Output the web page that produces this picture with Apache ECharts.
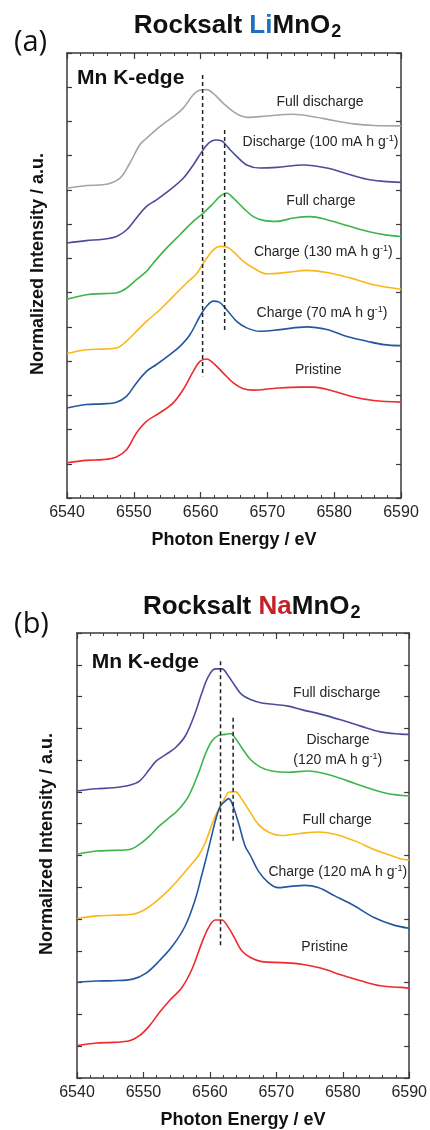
<!DOCTYPE html>
<html>
<head>
<meta charset="utf-8">
<script src="https://cdn.jsdelivr.net/npm/echarts@6/dist/echarts.min.js"></script>
<style>
  html, body { margin: 0; padding: 0; background: #fff; }
  #main { width: 430px; height: 1130px; }
</style>
</head>
<body>
<div id="main"></div>
<script>
// x tick labels (eV)
const energyMin = 6540, energyMax = 6590, energyStep = 10;

// (a) Rocksalt LiMnO2, [energy, offset intensity]
const liFullDischarge = [[6540,9.05],[6543,9.13],[6545.4,9.15],[6547.9,9.34],[6549.4,9.78],[6550.9,10.32],[6551.9,10.51],[6553.9,10.85],[6555.9,11.14],[6557.4,11.39],[6558.9,11.78],[6560,11.92],[6560.9,11.93],[6561.9,11.82],[6563.4,11.53],[6564.9,11.29],[6566.1,11.16],[6567.1,11.12],[6569.9,11.16],[6573.9,11.21],[6576.9,11.14],[6579.9,11.03],[6582.9,10.93],[6585.9,10.88],[6590,10.87]];
const liDischarge100 = [[6540,7.45],[6542.9,7.52],[6545.4,7.56],[6547.4,7.64],[6548.9,7.83],[6550.4,8.18],[6551.9,8.52],[6553.4,8.71],[6555.4,9.0],[6557.4,9.34],[6558.9,9.73],[6560.2,10.12],[6561.2,10.37],[6562.2,10.46],[6563.2,10.43],[6564.2,10.22],[6565.4,9.98],[6566.9,9.73],[6568.9,9.64],[6571.4,9.66],[6575.4,9.73],[6578.9,9.64],[6581.9,9.47],[6584.9,9.31],[6587.4,9.25],[6590,9.22]];
const liFullCharge = [[6540,5.81],[6542.9,5.94],[6545.4,5.97],[6547.4,5.99],[6548.9,6.13],[6550.4,6.38],[6551.9,6.62],[6552.9,6.86],[6554.9,7.30],[6556.9,7.69],[6558.9,8.08],[6560.4,8.32],[6561.9,8.61],[6562.9,8.81],[6563.9,8.91],[6564.9,8.76],[6566.4,8.47],[6567.9,8.22],[6569.4,8.11],[6571.4,8.08],[6573.9,8.18],[6576.4,8.22],[6578.9,8.13],[6581.9,7.96],[6584.9,7.79],[6587.9,7.68],[6590,7.64]];
const liCharge130 = [[6540,4.22],[6542.9,4.33],[6545.4,4.35],[6547.4,4.38],[6548.9,4.58],[6550.4,4.87],[6551.9,5.16],[6553.9,5.50],[6555.9,5.89],[6557.9,6.28],[6559.4,6.55],[6560.4,6.86],[6561.9,7.25],[6562.9,7.35],[6563.9,7.33],[6564.9,7.20],[6566.4,6.91],[6567.9,6.72],[6569.9,6.55],[6572.9,6.59],[6575.9,6.65],[6578.9,6.59],[6582.4,6.43],[6585.9,6.23],[6590,6.10]];
const liCharge70 = [[6540,2.63],[6542.9,2.73],[6545.4,2.75],[6547.4,2.80],[6548.9,2.97],[6550.4,3.36],[6551.9,3.70],[6553.4,3.90],[6555.4,4.19],[6556.9,4.43],[6558.4,4.77],[6559.9,5.31],[6560.9,5.60],[6561.9,5.75],[6562.7,5.73],[6563.9,5.50],[6565.4,5.16],[6566.9,4.97],[6568.9,4.87],[6571.9,4.92],[6575.9,5.00],[6578.9,4.92],[6581.9,4.72],[6584.9,4.58],[6587.4,4.48],[6590,4.45]];
const liPristine = [[6540,1.03],[6542.9,1.10],[6545.4,1.12],[6547.4,1.20],[6548.9,1.41],[6550.4,1.90],[6551.9,2.24],[6553.9,2.49],[6555.9,2.78],[6557.4,3.17],[6558.9,3.70],[6559.9,3.99],[6560.9,4.06],[6561.9,3.94],[6563.4,3.65],[6564.9,3.36],[6566.4,3.19],[6567.9,3.15],[6570.9,3.20],[6574.9,3.24],[6576.9,3.24],[6579.9,3.12],[6582.9,2.95],[6585.9,2.85],[6590,2.80]];
const liGuideA = [[6560.3,12.36],[6560.3,3.56]];
const liGuideB = [[6563.6,10.75],[6563.6,4.90]];

// (b) Rocksalt NaMnO2
const naFullDischarge = [[6540,9.03],[6542.9,9.10],[6545.4,9.13],[6547.9,9.21],[6549.4,9.34],[6550.9,9.71],[6551.9,9.97],[6553.4,10.18],[6554.8,10.39],[6556.3,10.76],[6557.8,11.49],[6558.8,12.12],[6559.8,12.64],[6560.8,12.87],[6561.8,12.87],[6562.8,12.64],[6563.8,12.33],[6564.8,12.06],[6566.1,11.91],[6567.8,11.80],[6569.8,11.75],[6571.8,11.70],[6573.8,11.59],[6576.8,11.44],[6579.8,11.26],[6582.7,11.07],[6585.7,10.89],[6588.7,10.82],[6590,10.81]];
const naDischarge120 = [[6540,7.04],[6542.9,7.14],[6545.4,7.16],[6547.9,7.19],[6549.4,7.35],[6550.9,7.61],[6552.4,7.93],[6553.9,8.19],[6555.3,8.45],[6556.8,8.87],[6558.3,9.60],[6559.3,10.18],[6560.3,10.60],[6561.3,10.78],[6562.3,10.81],[6563.1,10.84],[6563.8,10.70],[6564.8,10.39],[6566.1,10.02],[6567.6,9.78],[6569.3,9.66],[6571.8,9.62],[6574.8,9.66],[6577.8,9.55],[6580.8,9.34],[6583.7,9.13],[6586.7,8.95],[6590,8.87]];
const naFullCharge = [[6540,5.02],[6542.9,5.10],[6545.4,5.12],[6548.4,5.15],[6549.9,5.26],[6551.4,5.47],[6553.4,5.83],[6555.3,6.25],[6556.8,6.62],[6558.3,7.00],[6559.3,7.40],[6560.8,8.24],[6562.3,8.82],[6562.8,8.99],[6563.8,9.01],[6564.8,8.77],[6566.1,8.35],[6567.3,7.98],[6568.8,7.74],[6570.8,7.63],[6573.8,7.70],[6576.3,7.74],[6578.8,7.67],[6581.8,7.46],[6584.7,7.19],[6586.7,7.04],[6588.7,6.90],[6590,6.86]];
const naCharge120 = [[6540,3.01],[6542.9,3.05],[6545.4,3.06],[6548.4,3.11],[6550.4,3.30],[6552.4,3.69],[6554.4,4.16],[6556.3,4.79],[6557.8,5.62],[6558.8,6.40],[6559.6,7.05],[6560.3,7.65],[6560.9,8.15],[6561.6,8.56],[6562.3,8.71],[6562.8,8.79],[6563.3,8.66],[6564.3,8.03],[6565.3,7.30],[6566.1,7.00],[6567.3,6.51],[6568.8,6.15],[6570.3,5.99],[6571.8,6.02],[6574.3,6.06],[6576.3,5.99],[6578.8,5.73],[6581.8,5.41],[6584.7,5.05],[6587.7,4.81],[6590,4.71]];
const naPristine = [[6540,1.02],[6542.9,1.10],[6545.4,1.12],[6547.9,1.17],[6549.4,1.33],[6550.9,1.64],[6552.4,2.06],[6553.9,2.43],[6555.8,2.85],[6557.3,3.42],[6558.8,4.26],[6559.8,4.73],[6560.8,4.97],[6561.8,4.97],[6562.8,4.73],[6563.8,4.37],[6564.8,4.00],[6566.1,3.79],[6567.8,3.66],[6570.8,3.63],[6573.8,3.58],[6576.8,3.45],[6579.8,3.24],[6582.7,3.06],[6585.7,2.90],[6588.7,2.85],[6590,2.82]];
const naGuideA = [[6561.6,13.11],[6561.6,4.16]];
const naGuideB = [[6563.5,11.33],[6563.5,7.46]];

const FONT = '"Liberation Sans", Arial, sans-serif';
const AXIS = '#3a3a3a';
const TXT = '#262626';

const colors = {
  gray: '#a5a5a5', purple: '#4c4c9c', green: '#3cb54a',
  yellow: '#fbb717', blue: '#23579f', red: '#ee2a2f'
};

let myChart = echarts.init(document.getElementById('main'), null, { renderer: 'canvas' });

function xAxes(g) {
  const common = {
    type: 'value', gridIndex: g, min: energyMin, max: energyMax, interval: energyStep,
    axisLine: { show: true, onZero: false, lineStyle: { color: AXIS, width: 1.5 } },
    axisTick: { show: true, inside: true, length: 6, lineStyle: { color: AXIS, width: 1.2 } },
    minorTick: { show: true, splitNumber: 5, length: 3, lineStyle: { color: AXIS, width: 1 } },
    splitLine: { show: false }
  };
  return [
    Object.assign({}, common, {
      position: 'bottom',
      axisLabel: { show: true, margin: 7, fontFamily: FONT, fontSize: 16, color: TXT,
        formatter: function (v) { return String(v); } },
      name: 'Photon Energy / eV', nameLocation: 'middle', nameGap: 33,
      nameTextStyle: { fontFamily: FONT, fontWeight: 'bold', fontSize: 18, color: '#111' }
    }),
    Object.assign({}, common, { position: 'top', axisLabel: { show: false } })
  ];
}

function yAxes(g, top) {
  const common = {
    type: 'value', gridIndex: g, min: 0, max: top, interval: 1,
    axisLine: { show: true, onZero: false, lineStyle: { color: AXIS, width: 1.5 } },
    axisTick: { show: true, inside: true, length: 5, lineStyle: { color: AXIS, width: 1.2 } },
    axisLabel: { show: false }, splitLine: { show: false }
  };
  return [
    Object.assign({}, common, { position: 'left' }),
    Object.assign({}, common, { position: 'right' })
  ];
}

function curve(data, color, g) {
  return {
    type: 'line', xAxisIndex: 2 * g, yAxisIndex: 2 * g, data: data,
    smooth: 0.35, showSymbol: false, silent: true,
    lineStyle: { color: color, width: 1.6 }
  };
}

function guide(data, g) {
  return {
    type: 'line', xAxisIndex: 2 * g, yAxisIndex: 2 * g, data: data,
    showSymbol: false, silent: true,
    lineStyle: { color: '#222', width: 1.5, type: [4, 3] }
  };
}

// label text helper, {s|-1} is the superscript
const supRich = {
  t: { fontFamily: FONT, fontSize: 14, fill: TXT, color: TXT, lineHeight: 16 },
  s: { fontFamily: FONT, fontSize: 9, fill: TXT, color: TXT, lineHeight: 9, verticalAlign: 'top' }
};
function label(x, y, text) {
  return {
    type: 'text', x: x, y: y, silent: true,
    style: { text: text, rich: supRich, align: 'center', verticalAlign: 'middle', fontFamily: FONT, fontSize: 14, fill: TXT }
  };
}

function title(x, y, head, color) {
  return {
    type: 'text', x: x, y: y, silent: true,
    style: {
      text: '{m|Rocksalt }{c|' + head + '}{m|MnO}{d|2}',
      align: 'center', verticalAlign: 'middle',
      rich: {
        m: { fontFamily: FONT, fontWeight: 'bold', fontSize: 26, fill: '#111', lineHeight: 28 },
        c: { fontFamily: FONT, fontWeight: 'bold', fontSize: 26, fill: color, lineHeight: 28 },
        d: { fontFamily: FONT, fontWeight: 'bold', fontSize: 18, fill: '#111', lineHeight: 18, padding: [13, 0, 0, 1] }
      }
    }
  };
}

function plain(x, y, text, size, weight, family, align, rot) {
  return {
    type: 'text', x: x, y: y, rotation: rot || 0, silent: true,
    style: { text: text, fontFamily: family, fontSize: size, fontWeight: weight, fill: '#111', align: align, verticalAlign: 'middle' }
  };
}

let options = {
  animation: false,
  backgroundColor: '#fff',
  grid: [
    { left: 67, top: 53, width: 334, height: 445 },
    { left: 77, top: 633, width: 335, height: 446 }
  ],
  xAxis: xAxes(0).concat(xAxes(1)),
  yAxis: yAxes(0, 13).concat(yAxes(1, 14)),
  series: [
    curve(liFullDischarge, colors.gray, 0),
    curve(liDischarge100, colors.purple, 0),
    curve(liFullCharge, colors.green, 0),
    curve(liCharge130, colors.yellow, 0),
    curve(liCharge70, colors.blue, 0),
    curve(liPristine, colors.red, 0),
    guide(liGuideA, 0),
    guide(liGuideB, 0),
    curve(naFullDischarge, colors.purple, 1),
    curve(naDischarge120, colors.green, 1),
    curve(naFullCharge, colors.yellow, 1),
    curve(naCharge120, colors.blue, 1),
    curve(naPristine, colors.red, 1),
    guide(naGuideA, 1),
    guide(naGuideB, 1)
  ],
  graphic: [
    title(237.5, 26, 'Li', '#1f70c1'),
    title(251.7, 607, 'Na', '#c42128'),
    plain(30.5, 43, '(a)', 29, 'normal', '"Open Sans", sans-serif', 'center'),
    plain(31.5, 625, '(b)', 29, 'normal', '"Open Sans", sans-serif', 'center'),
    plain(77, 78.5, 'Mn K-edge', 21, 'bold', FONT, 'left'),
    plain(91.7, 662, 'Mn K-edge', 21, 'bold', FONT, 'left'),
    plain(38.5, 264, 'Normalized Intensity / a.u.', 18, 'bold', FONT, 'center', Math.PI / 2),
    plain(47, 844, 'Normalized Intensity / a.u.', 18, 'bold', FONT, 'center', Math.PI / 2),
    // (a) curve labels
    label(320, 101.7, '{t|Full discharge}'),
    label(320.5, 141.7, '{t|Discharge (100 mA h g}{s|-1}{t|)}'),
    label(321, 200.7, '{t|Full charge}'),
    label(323.3, 252.3, '{t|Charge (130 mA h g}{s|-1}{t|)}'),
    label(322, 312.7, '{t|Charge (70 mA h g}{s|-1}{t|)}'),
    label(318.3, 370, '{t|Pristine}'),
    // (b) curve labels
    label(336.7, 692.7, '{t|Full discharge}'),
    label(338, 740, '{t|Discharge}'),
    label(337.7, 760, '{t|(120 mA h g}{s|-1}{t|)}'),
    label(337.2, 820, '{t|Full charge}'),
    label(337.8, 871.7, '{t|Charge (120 mA h g}{s|-1}{t|)}'),
    label(324.7, 946.7, '{t|Pristine}')
  ]
};

myChart.setOption(options);
</script>
</body>
</html>
